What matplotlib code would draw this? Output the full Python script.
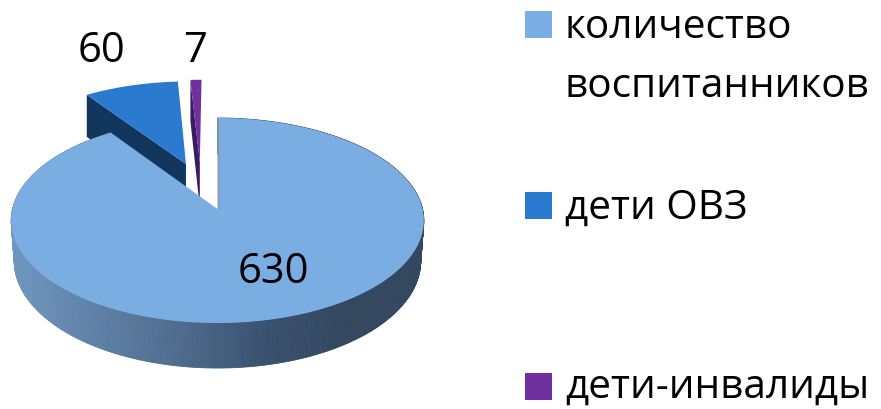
"""Pie chart with a hand-built 3D look, figure-pixel coordinates"""
import numpy as np
import matplotlib
matplotlib.use("Agg")
import matplotlib.pyplot as plt
from matplotlib.collections import PolyCollection
from matplotlib.colors import LinearSegmentedColormap
from matplotlib.patches import Rectangle

categories = ["количество\nвоспитанников", "дети ОВЗ", "дети-инвалиды"]
values = [630, 60, 7]

COLORS = ["#7aade2", "#2a7bd0", "#7030a0"]
WALLS = ["#4f6c8e", "#13365f", "#3a1a62"]
WALL_CMAP = LinearSegmentedColormap.from_list(
    "wall", ["#7096bf", "#5f80a6", "#4f6c8e", "#3a5270", "#33475f", "#33475f"])

# slice shift in disc units (sideways, backwards)
EXPLODE = [(0.0, 0.0), (-0.162, 0.468), (-0.091, 0.49)]
LABEL_POS = [(273, 283), (102, 62), (195.5, 62)]
LEGEND_Y = [11, 192, 373]
TEXT_Y = [(38, 97), (219,), (398,)]

CX, CY = 217.5, 209.0
RX, RY, TILT = 205.0, 101.2, 0.112
DEPTH = 40.0
DEPTH_BACK = 48.0
FOOT = 0.985  # the bottom ring sits a little further from the viewer

plt.rcParams["font.family"] = ["Open Sans", "DejaVu Sans"]


def project(u, v, drop=0.0):
    """disc coordinates -> figure pixels, with a slight perspective"""
    w = 1 + TILT * v
    return CX + RX * u / w, CY - RY * v / w + drop / w


def outline(t0, t1, shift):
    t = np.linspace(t0, t1, max(int((t1 - t0) * 120), 2))
    u = np.concatenate([[0], np.sin(t), [0]]) + shift[0]
    v = np.concatenate([[0], np.cos(t), [0]]) + shift[1]
    return u, v


def draw_slice(ax, t0, t1, shift, color, wall):
    # radial cut wall, then top face
    u = np.array([shift[0], shift[0] + np.sin(t0)])
    v = np.array([shift[1], shift[1] + np.cos(t0)])
    x, y = project(u, v)
    xb, yb = project(u, v, DEPTH_BACK)
    ax.fill(np.r_[x, xb[::-1]], np.r_[y, yb[::-1]], color=wall, lw=0)
    x, y = project(*outline(t0, t1, shift))
    ax.fill(x, y, color=color, lw=0)


def draw_main(ax, t0, t1, color):
    t = np.linspace(t0, t1, 500)
    u, v = np.sin(t), np.cos(t)
    xt, yt = project(u, v)
    xb, yb = project(u * FOOT, v, DEPTH)
    quads = [[(xt[i], yt[i]), (xt[i + 1], yt[i + 1]), (xb[i + 1], yb[i + 1]), (xb[i], yb[i])]
             for i in range(len(t) - 1)]
    shade = WALL_CMAP(np.clip((xt[:-1] - 12) / 414, 0, 1))
    ax.add_collection(PolyCollection(quads, facecolors=shade, edgecolors=shade, linewidths=0.6))
    x, y = project(*outline(t0, t1, (0, 0)))
    ax.fill(x, y, color=color, lw=0)
    # thin grey line along the cut that faces the gap
    xc, yc = project(np.array([0.0, 0.0]), np.array([0.0, 1.0]))
    ax.plot(xc, yc, color="#8d99a6", lw=0.8, solid_capstyle="butt")


fig = plt.figure(figsize=(8.81, 4.09), dpi=100, facecolor="white")
ax = fig.add_axes([0, 0, 1, 1])
ax.set_xlim(0, 881)
ax.set_ylim(409, 0)
ax.axis("off")

edges = np.r_[0, np.cumsum(values)] / sum(values) * 2 * np.pi

# back slices first, the big one covers their feet
for i in (1, 2):
    draw_slice(ax, edges[i], edges[i + 1], EXPLODE[i], COLORS[i], WALLS[i])
draw_main(ax, edges[0], edges[1], COLORS[0])

for val, (x, y) in zip(values, LABEL_POS):
    ax.text(x, y, str(val), ha="center", va="baseline", fontsize=30, color="black")

for name, color, sy, ty in zip(categories, COLORS, LEGEND_Y, TEXT_Y):
    ax.add_patch(Rectangle((525, sy), 27, 27, color=color, lw=0))
    for line, y in zip(name.split("\n"), ty):
        ax.text(565, y, line, ha="left", va="baseline", fontsize=29.2, color="black")

fig.savefig("out.png", dpi=100, facecolor="white")
plt.close(fig)
